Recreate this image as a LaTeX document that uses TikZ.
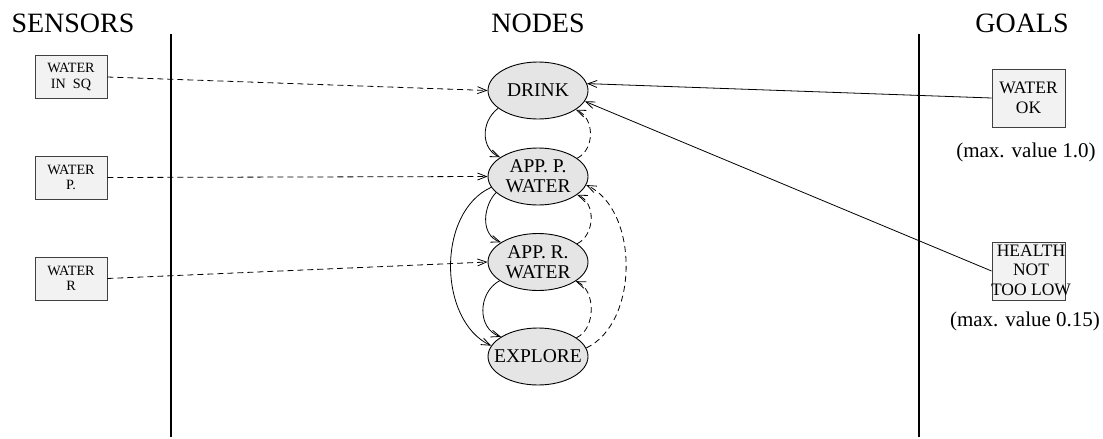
\documentclass[tikz,border=0pt]{standalone}
\usepackage{fontspec}
\setmainfont{Liberation Serif}
\usetikzlibrary{arrows.meta,shapes.geometric}
\definecolor{ellfill}{HTML}{E5E5E5}
\definecolor{boxfill}{HTML}{F2F2F2}
\definecolor{boxline}{HTML}{404040}
\tikzset{
  head/.style={font=\fontsize{28}{30}\selectfont, anchor=base, inner sep=0pt},
  sbox/.style={draw=boxline, fill=boxfill, line width=0.9pt, minimum width=72pt, minimum height=43pt, inner sep=0pt, align=center, font=\fontsize{14.2}{15.6}\selectfont},
  gbox/.style={draw=boxline, fill=boxfill, line width=0.9pt, minimum width=73pt, minimum height=58pt, inner sep=0pt},
  gtext/.style={inner sep=0pt, align=center, font=\fontsize{17.5}{19.5}\selectfont},
  ell/.style={ellipse, draw, fill=ellfill, line width=0.9pt, minimum width=100pt, minimum height=57pt, inner sep=0pt, align=center, font=\fontsize{19.5}{20}\selectfont},
  note/.style={font=\fontsize{21}{23}\selectfont, anchor=base, inner sep=0pt},
  arr/.style={line width=0.8pt, -{Straight Barb[length=9pt,width=7pt,line width=0.8pt]}},
  darr/.style={arr, dash pattern=on 6pt off 4pt},
  sep/.style={line width=1.3pt}
}
\begin{document}
\begin{tikzpicture}[x=1pt,y=-1pt]
\useasboundingbox (0,0) rectangle (1103,439);
% headers
\node[head] (hs) at (73,32) {SENSORS};
\node[head] (hn) at (538,32) {NODES};
\node[head] (hg) at (1022,32) {GOALS};
% separators
\draw[sep] (171,34) -- (171,437);
\draw[sep] (919,34) -- (919,437);
% sensors
\node[sbox] (s1) at (71,77) {WATER\\IN\ \ SQ};
\node[sbox] (s2) at (71,177.5) {WATER\\P.};
\node[sbox] (s3) at (71,278.5) {WATER\\R};
% nodes
\node[ell] (drink) at (538,90.5) {\makebox[0pt]{DRINK}};
\node[ell] (appp) at (538,176.5) {\makebox[0pt]{APP. P.}\\\makebox[0pt]{WATER}};
\node[ell] (appr) at (538,262) {\makebox[0pt]{APP. R.}\\\makebox[0pt]{WATER}};
\node[ell] (expl) at (538,356.5) {\makebox[0pt]{EXPLORE}};
% goals
\node[gbox] (wok) at (1028.5,98) {};
\node[gtext] (woktxt) at (wok) {WATER\\OK};
\node[gbox] (hea) at (1028.5,271) {};
\node[gtext] (heatxt) at (1031,270) {HEALTH\\NOT\\TOO LOW};
\node[note] (n1) at (1026,157) {(max. value 1.0)};
\node[note] (n2) at (1025,326) {(max. value 0.15)};
% sensor connectors
\draw[darr] (s1.east) -- (drink.west);
\draw[darr] (s2.east) -- (appp.west);
\draw[darr] (s3.east) -- (appr.west);
% goal connectors
\draw[arr] (wok.west) -- (drink.8);
\draw[arr] (hea.west) -- (drink.347);
% node connectors
\draw[arr] (drink.204) .. controls +(-18,14) and +(-19,-8) .. (appp.153);
\draw[darr] (appp.25) .. controls +(18,-9) and +(19,8) .. (drink.333);
\draw[arr] (appp.201) .. controls +(-12,12) and +(-22,-8) .. (appr.152);
\draw[darr] (appr.25) .. controls +(18,-9) and +(19,8) .. (appp.335);
\draw[arr] (appp.193) .. controls +(-55,25) and +(-53,-25) .. (expl.167);
\draw[darr] (expl.10) .. controls +(53,-25) and +(53,25) .. (appp.350);
\draw[arr] (appr.206) .. controls +(-22,12) and +(-24,-8) .. (expl.152);
\draw[darr] (expl.26) .. controls +(20,-9) and +(20,8) .. (appr.333);
\end{tikzpicture}
\end{document}
